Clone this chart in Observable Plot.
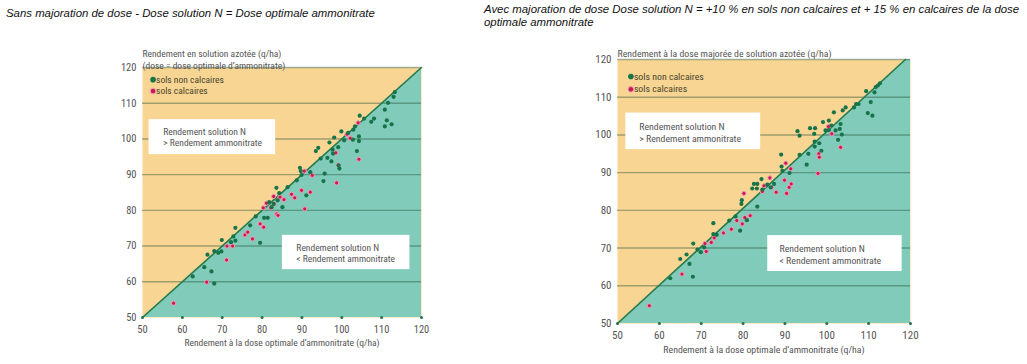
<!DOCTYPE html>
<html>
<head>
<meta charset="utf-8">
<script src="https://cdn.jsdelivr.net/npm/d3@7"></script>
<script src="https://cdn.jsdelivr.net/npm/@observablehq/plot@0.6"></script>
<style>
  html, body { margin: 0; padding: 0; background: #fff; }
  #wrap { position: relative; width: 1027px; height: 364px; overflow: hidden; }
  .title { position: absolute; font-family: "Liberation Sans", Arial, sans-serif; font-style: italic; font-size: 11.4px; color: #111; white-space: nowrap; }
  .chart { position: absolute; top: 0; }
</style>
</head>
<body>
<div id="wrap">
  <div class="title" id="t1" style="left:6px; top:7px;"></div>
  <div class="title" id="t2" style="left:484px; top:3px; line-height:13px;"></div>
  <div class="chart" id="c1" style="left:0px;"></div>
  <div class="chart" id="c2" style="left:513px;"></div>
</div>
<script>
// ---------- texts ----------
const titleLeft = "Sans majoration de dose - Dose solution N = Dose optimale ammonitrate";
const titleRight = ["Avec majoration de dose Dose solution N = +10 % en sols non calcaires et + 15 % en calcaires de la dose", "optimale ammonitrate"];
const yLabelLeft = ["Rendement en solution azotée (q/ha)", "(dose = dose optimale d’ammonitrate)"];
const yLabelRight = ["Rendement à la dose majorée de solution azotée (q/ha)"];
const xLabel = "Rendement à la dose optimale d’ammonitrate (q/ha)";
const legendLabels = ["sols non calcaires", "sols calcaires"];
const boxTextUpper = "Rendement solution N\n> Rendement ammonitrate";
const boxTextLower = "Rendement solution N\n< Rendement ammonitrate";

// ---------- ticks ----------
const xTicks = [50, 60, 70, 80, 90, 100, 110, 120];
const yTicks = [50, 60, 70, 80, 90, 100, 110, 120];
const gridLines = [60, 70, 80, 90, 100, 110, 120];

// ---------- data: left chart (no dose increase) ----------
const leftNonCalcaires = [
  [62.6,61.5],[65.5,64.1],[66.3,67.6],[67.3,62.9],[68.0,59.5],[68.0,68.6],[69.0,68.1],[69.8,68.5],
  [69.9,71.7],[72.2,71.1],[72.8,72.7],[73.3,75.1],[73.3,71.5],[77.0,75.8],[78.4,78.3],[79.5,70.9],
  [80.5,77.9],[81.4,77.9],[81.8,82.3],[82.4,80.9],[82.9,81.8],[83.6,86.3],[83.9,82.8],[84.3,84.8],
  [85.1,80.9],[86.4,86.5],[88.7,88.4],[89.5,91.9],[89.7,91.0],[89.9,89.9],[91.1,84.2],[92.1,90.7],
  [93.5,96.6],[94.1,97.5],[94.7,94.5],[95.4,88.2],[95.7,90.3],[96.4,94.7],[96.9,99.0],[97.4,93.7],
  [97.7,97.0],[97.8,95.9],[98.1,100.4],[99.1,97.7],[99.2,92.6],[99.4,91.7],[99.9,102.1],[100.6,99.6],
  [101.6,101.7],[102.8,99.8],[102.9,102.6],[103.3,103.5],[103.8,96.6],[104.3,100.7],[104.3,99.4],
  [104.5,106.5],[105.6,105.7],[107.4,104.8],[108.1,105.7],[110.8,108.2],[110.8,103.5],[111.3,105.2],
  [111.6,110.1],[112.5,104.1],[113.0,111.8],[113.3,113.1]
];
const leftCalcaires = [
  [57.8,54.0],[66.1,59.9],[71.1,66.1],[71.2,70.0],[72.6,70.0],[75.7,73.1],[76.4,73.9],[77.6,72.0],
  [79.5,76.2],[80.4,75.3],[80.3,80.7],[81.1,82.0],[82.2,80.7],[82.9,83.9],[83.0,81.8],[83.7,79.0],
  [84.0,78.6],[84.5,83.7],[85.5,83.0],[87.4,84.5],[88.2,83.5],[89.9,85.6],[90.6,91.0],[90.7,80.4],
  [92.1,85.1],[92.6,89.8],[98.5,96.1],[98.7,87.7],[99.1,92.7],[101.3,101.3],[102.1,100.2],[104.1,104.5],
  [104.3,94.3]
];

// ---------- data: right chart (increased dose) ----------
const rightNonCalcaires = [
  [62.6,62.0],[65.0,67.1],[66.5,68.3],[67.2,65.8],[68.0,62.4],[68.1,71.2],[69.1,69.6],[69.9,68.9],
  [70.7,70.2],[72.9,76.6],[72.9,73.7],[73.7,73.5],[76.7,77.3],[78.2,78.4],[79.3,74.6],[79.6,81.7],
  [79.7,82.7],[80.9,77.4],[82.2,85.8],[82.6,87.0],[83.3,85.8],[83.4,87.0],[83.4,81.0],[84.4,88.3],
  [84.6,85.5],[85.8,86.8],[86.6,86.1],[87.4,87.0],[89.1,94.8],[89.2,91.6],[89.4,90.5],[91.1,89.9],
  [93.0,101.0],[93.5,99.8],[93.5,94.7],[95.2,92.1],[95.6,95.0],[96.0,101.8],[97.0,100.3],[97.2,101.8],
  [97.1,98.2],[97.1,96.9],[98.2,97.8],[98.7,95.8],[99.1,103.4],[99.7,101.2],[100.5,103.8],[100.5,101.3],
  [101.1,102.5],[101.7,106.0],[102.1,101.2],[102.7,98.7],[103.1,101.6],[103.3,102.9],[103.6,100.1],
  [103.8,106.5],[104.5,107.3],[106.5,107.3],[107.0,108.2],[107.6,108.2],[109.4,111.6],[109.8,105.8],
  [110.5,108.7],[110.9,105.1],[111.4,111.3],[111.7,112.7],[112.2,113.1],[112.7,113.7]
];
const rightCalcaires = [
  [57.6,54.7],[65.4,63.1],[70.9,71.2],[71.2,69.1],[72.4,71.5],[73.1,72.7],[75.3,74.0],[77.2,75.0],
  [78.5,77.3],[79.8,76.4],[80.2,84.5],[80.4,78.1],[81.7,78.6],[84.6,85.0],[85.0,86.5],[86.4,88.6],
  [86.8,86.1],[87.9,84.8],[89.9,88.0],[90.2,92.5],[90.4,84.5],[91.0,86.1],[91.4,91.0],[91.5,87.0],
  [98.1,95.0],[98.2,94.1],[97.9,89.8],[100.4,102.2],[101.2,100.3],[103.3,96.7]
];

// ---------- annotation placements (data coordinates) ----------
const leftBoxes = [
  {x1:51.65, x2:83.4, y1:95.6, y2:105.4, tx:55.2, ty:100.6, text: boxTextUpper},
  {x1:85.1, x2:117.1, y1:63.4, y2:73.0, tx:88.6, ty:68.1, text: boxTextLower}
];
const rightBoxes = [
  {x1:52.0, x2:84.2, y1:96.1, y2:105.8, tx:55.2, ty:100.65, text: boxTextUpper},
  {x1:85.9, x2:118.0, y1:63.8, y2:73.3, tx:88.7, ty:68.35, text: boxTextLower}
];
const leftLegend = [{x:52.65, y:116.6}, {x:52.65, y:113.4}];
const rightLegend = [{x:53.2, y:115.5}, {x:53.2, y:112.1}];

document.getElementById("t1").textContent = titleLeft;
document.getElementById("t2").innerHTML = titleRight.join("<br>");

const YELLOW = "#f8d592";
const TEAL = "#80cbb9";
const GREEN = "#17744a";
const RED = "#c91c4c";
const HALO = "#ee9fbb";
const TXT = "#555";
const NARROW = "'Liberation Sans Narrow', 'Arial Narrow', 'Roboto Condensed', sans-serif";

function chart(o) {
  const nonPts = o.non.map(([x, y]) => ({x, y}));
  const calPts = o.cal.map(([x, y]) => ({x, y}));
  const diag = [{x: 50, y: 50}, {x: o.diagEndX, y: 120}];
  return Plot.plot({
    width: o.width, height: 364,
    marginLeft: o.ml, marginRight: o.mr, marginTop: o.mt, marginBottom: o.mb,
    x: {domain: [50, 120]},
    y: {domain: [50, 120]},
    style: {fontFamily: NARROW, fontWeight: 400, background: "transparent", overflow: "visible"},
    marks: [
      Plot.frame({fill: YELLOW, stroke: null}),
      Plot.areaY(diag.concat([{x: 120, y: 120}]), {x: "x", y1: 50, y2: "y", fill: TEAL}),
      Plot.ruleY(gridLines, {stroke: "#24503a", strokeOpacity: 0.42, strokeWidth: 1.4}),
      Plot.line(diag, {x: "x", y: "y", stroke: "#2b7a4a", strokeWidth: 1.6}),
      Plot.dot(xTicks, {x: d => d, y: 50, r: 1.5, fill: "#2a6d52"}),
      Plot.rect(o.boxes, {x1: "x1", x2: "x2", y1: "y1", y2: "y2", fill: "#fff"}),
      Plot.text(o.boxes, {x: "tx", y: "ty", text: "text", textAnchor: "start", fontSize: o.fs, lineHeight: 1.22, fill: TXT}),
      Plot.dot([o.legend[0]], {x: "x", y: "y", r: 2.8, fill: GREEN}),
      Plot.dot([o.legend[1]], {x: "x", y: "y", r: 2.8, fill: RED, stroke: HALO, strokeWidth: 1}),
      Plot.text(o.legend, {x: "x", y: "y", text: (d, i) => legendLabels[i], textAnchor: "start", dx: 3, fontSize: o.fs, fill: "#4a4630"}),
      Plot.dot(calPts, {x: "x", y: "y", r: 2.1, fill: RED, stroke: HALO, strokeWidth: 1}),
      Plot.dot(nonPts, {x: "x", y: "y", r: 2.1, fill: GREEN}),
      Plot.axisX({ticks: xTicks, tickSize: 0, tickPadding: 8, fontSize: o.tfs, fill: TXT, label: null}),
      Plot.axisY({ticks: yTicks, tickSize: 0, tickPadding: 6, fontSize: o.tfs, fill: TXT, label: null}),
      ...o.ylab.map((t, i) => Plot.text([t], {frameAnchor: "top-left", text: d => d, dy: o.ylabDy[i], textAnchor: "start", fontSize: o.fs, fill: TXT})),
      Plot.text([xLabel], {frameAnchor: "bottom", text: d => d, dy: o.xlabDy, fontSize: o.fs, fill: TXT})
    ]
  });
}

document.getElementById("c1").appendChild(chart({
  width: 513, ml: 142, mr: 92, mt: 67, mb: 47,
  non: leftNonCalcaires, cal: leftCalcaires, diagEndX: 120,
  boxes: leftBoxes, legend: leftLegend, fs: 9.5, tfs: 10.5,
  ylab: yLabelLeft, ylabDy: [-17, -5.5], xlabDy: 28
}));
document.getElementById("c2").appendChild(chart({
  width: 514, ml: 104, mr: 117, mt: 59, mb: 41,
  non: rightNonCalcaires, cal: rightCalcaires, diagEndX: 118.8,
  boxes: rightBoxes, legend: rightLegend, fs: 9.8, tfs: 11,
  ylab: yLabelRight, ylabDy: [-9], xlabDy: 29
}));
</script>
</body>
</html>
